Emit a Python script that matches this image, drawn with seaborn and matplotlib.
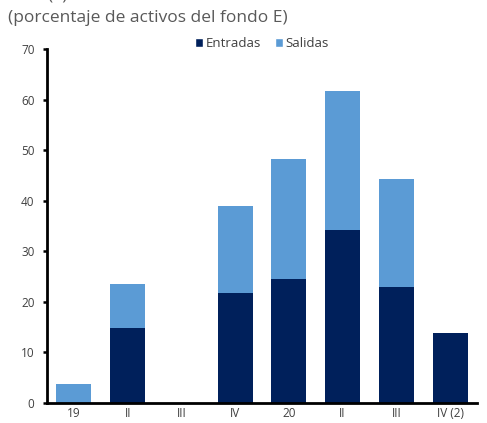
import matplotlib
matplotlib.use("Agg")
import matplotlib.pyplot as plt
import seaborn as sns
import pandas as pd
import numpy as np
from matplotlib.patches import Patch

categories = ["19", "II", "III", "IV", "20", "II", "III", "IV (2)"]
entradas = [0.0, 14.8, 0.0, 21.7, 24.5, 34.3, 23.0, 13.8]
salidas = [3.7, 8.7, 0.0, 17.3, 23.7, 27.4, 21.3, 0.0]
yticks = [0, 10, 20, 30, 40, 50, 60, 70]

c_ent = "#00205B"
c_sal = "#5B9BD5"
txt = "#404040"

sns.set_theme(style="white")
plt.rcParams["font.family"] = ["Open Sans", "DejaVu Sans"]

pos = list(range(len(categories)))
df = pd.DataFrame({"pos": pos, "ent": entradas,
                   "tot": [e + s for e, s in zip(entradas, salidas)]})

fig = plt.figure(figsize=(4.87, 4.23), dpi=100)
ax = fig.add_axes([47/487, 20/423, 430/487, 354/423])

sns.barplot(data=df, x="pos", y="tot", color=c_sal, saturation=1, width=0.65,
            ax=ax, order=pos, linewidth=0)
sns.barplot(data=df, x="pos", y="ent", color=c_ent, saturation=1, width=0.65,
            ax=ax, order=pos, linewidth=0)

ax.set_xlim(-0.5, len(categories) - 0.5)
ax.set_ylim(0, 70)
ax.set_yticks(yticks)
ax.set_yticklabels([str(v) for v in yticks], fontsize=8.5, color=txt)
ax.set_xticks(pos)
ax.set_xticklabels(categories, fontsize=8.5, color=txt)
ax.set_xticks(np.arange(-0.5, len(categories), 1.0), minor=True)
ax.tick_params(axis="x", which="major", length=0, pad=3)
ax.tick_params(axis="x", which="minor", length=4, width=1.8, direction="out", color="black")
ax.tick_params(axis="y", which="major", length=3, width=1.8, direction="out", color="black", pad=6, left=True)
ax.set_xlabel("")
ax.set_ylabel("")
for s in ["top", "right"]:
    ax.spines[s].set_visible(False)
for s in ["left", "bottom"]:
    ax.spines[s].set_color("black")
    ax.spines[s].set_linewidth(2)
ax.grid(False)

handles = [Patch(facecolor=c_ent, label="Entradas"), Patch(facecolor=c_sal, label="Salidas")]
ax.legend(handles=handles, loc="center", bbox_to_anchor=(0.5, 1.015), ncol=2, frameon=False,
          fontsize=9.5, handlelength=0.6, handleheight=0.6, handletextpad=0.2, columnspacing=1.0,
          labelcolor=txt)

fig.text(8/487, 1 - 18/423, "(porcentaje de activos del fondo E)", fontsize=12.5, color="#595959",
         ha="left", va="center")
fig.text(47/487, 1 + 1/423, "(1)", fontsize=12.5, color="#595959", ha="left", va="baseline")

fig.savefig("out.png", dpi=100)
